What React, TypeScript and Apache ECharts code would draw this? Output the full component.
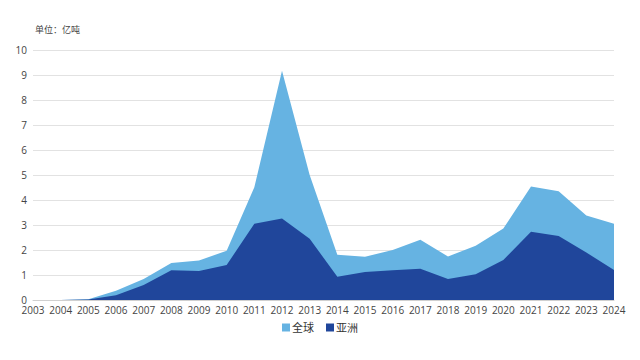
import React, { useEffect, useRef } from "react";
import * as echarts from "echarts";

const years = ["2003","2004","2005","2006","2007","2008","2009","2010","2011","2012","2013","2014","2015","2016","2017","2018","2019","2020","2021","2022","2023","2024"];
const globalValues = [0, 0, 0.03, 0.37, 0.84, 1.48, 1.58, 1.97, 4.51, 9.17, 5.0, 1.81, 1.73, 2.0, 2.41, 1.74, 2.17, 2.86, 4.54, 4.35, 3.38, 3.05];
const asiaValues = [0, 0, 0.02, 0.19, 0.6, 1.19, 1.16, 1.4, 3.05, 3.26, 2.45, 0.93, 1.12, 1.19, 1.25, 0.84, 1.03, 1.6, 2.73, 2.56, 1.9, 1.2];
const yTicks = [0, 1, 2, 3, 4, 5, 6, 7, 8, 9, 10];

const FONT = "'Open Sans', 'Noto Sans CJK SC', sans-serif";

export default function App() {
  const ref = useRef<HTMLDivElement>(null);
  useEffect(() => {
    if (!ref.current) return;
    const chart = echarts.init(ref.current, null, { renderer: "svg" });
    chart.setOption({
      animation: false,
      textStyle: { fontFamily: FONT },
      title: {
        text: "单位：亿吨",
        left: 30,
        top: 20,
        textStyle: { fontSize: 9, fontWeight: "normal", color: "#444", fontFamily: FONT },
      },
      legend: {
        bottom: 22,
        left: "center",
        itemWidth: 8,
        itemHeight: 8,
        itemGap: 12,
        icon: "rect",
        textStyle: { fontSize: 11, color: "#333", padding: [0, 0, 0, -3] },
        data: ["全球", "亚洲"],
      },
      grid: { left: 33, right: 26, top: 50, bottom: 60 },
      xAxis: {
        type: "category",
        data: years,
        boundaryGap: false,
        axisLine: { lineStyle: { color: "#d0d0d0" } },
        axisTick: { show: false },
        axisLabel: { fontSize: 10, color: "#444", margin: 5, interval: 0 },
      },
      yAxis: {
        type: "value",
        min: yTicks[0],
        max: yTicks[yTicks.length - 1],
        interval: 1,
        axisLine: { show: false },
        axisTick: { show: false },
        axisLabel: { fontSize: 10, color: "#444", margin: 6 },
        splitLine: { lineStyle: { color: "#e2e2e2" } },
      },
      series: [
        {
          name: "全球",
          type: "line",
          data: globalValues,
          symbol: "none",
          lineStyle: { width: 0 },
          itemStyle: { color: "#66b3e2" },
          areaStyle: { color: "#66b3e2", opacity: 1 },
          z: 1,
        },
        {
          name: "亚洲",
          type: "line",
          data: asiaValues,
          symbol: "none",
          lineStyle: { width: 0 },
          itemStyle: { color: "#20469b" },
          areaStyle: { color: "#20469b", opacity: 1 },
          z: 2,
        },
      ],
    });
    return () => chart.dispose();
  }, []);
  return <div ref={ref} style={{ width: 640, height: 360, position: "absolute", left: 0, top: 0 }} />;
}
